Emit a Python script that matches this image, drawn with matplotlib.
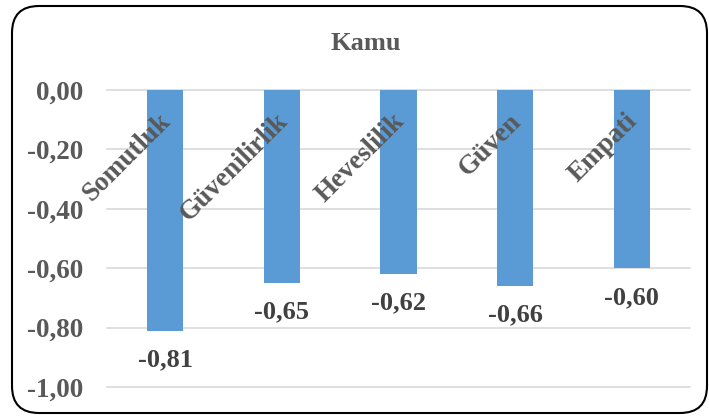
import matplotlib
matplotlib.use("Agg")
import matplotlib.pyplot as plt
from matplotlib.patches import FancyBboxPatch
from matplotlib.transforms import IdentityTransform

categories = ["Somutluk", "Güvenilirlik", "Heveslilik", "Güven", "Empati"]
values = [-0.81, -0.65, -0.62, -0.66, -0.60]
yticks = [0.0, -0.2, -0.4, -0.6, -0.8, -1.0]
title = "Kamu"

plt.rcParams['font.family'] = ['Liberation Serif', 'DejaVu Serif']
plt.rcParams['font.weight'] = 'bold'

W, H = 709, 416
fig = plt.figure(figsize=(W / 100, H / 100), dpi=100)
fig.patch.set_facecolor('white')

# rounded border (pixel coordinates, origin bottom-left)
border = FancyBboxPatch((12, H - 413), 707 - 12, 413 - 6,
                        boxstyle="round,pad=0,rounding_size=27",
                        transform=IdentityTransform(), facecolor='none',
                        edgecolor='black', linewidth=1.5, zorder=10)
fig.patches.append(border)

left, right, top, bottom = 107, 690, 90, 387
ax = fig.add_axes([left / W, (H - bottom) / H, (right - left) / W, (bottom - top) / H])
ax.set_facecolor('none')

x = list(range(len(categories)))
ax.bar(x, values, width=0.31, color='#5B9BD5', zorder=3)
ax.set_xlim(-0.5, len(categories) - 0.5)
ax.set_ylim(-1.0, 0.0)
ax.set_yticks(yticks)
ax.set_yticklabels([f"{v:.2f}".replace('.', ',') for v in yticks])
ax.tick_params(axis='y', length=0, pad=17, labelsize=19.5, labelcolor='#595959')
ax.set_xticks([])
for s in ax.spines.values():
    s.set_visible(False)
for v in yticks:
    ax.axhline(v, color='#D9D9D9', linewidth=1.2, zorder=1, clip_on=False)

for i, (c, v) in enumerate(zip(categories, values)):
    ax.annotate(c, xy=(i, 0), xytext=(-5, -13.5), textcoords='offset points',
                rotation=45, ha='right', va='top', rotation_mode='anchor',
                fontsize=19.5, color='#595959', fontweight='bold', zorder=5)
    ax.annotate(f"{v:.2f}".replace('.', ','), xy=(i, v), xytext=(0, -21),
                textcoords='offset points', ha='center', va='center',
                fontsize=19, color='#404040', fontweight='bold', zorder=5)

fig.text(366 / W, 1 - 43 / H, title, ha='center', va='center',
         fontsize=19, color='#595959', fontweight='bold')

fig.savefig('out.png', dpi=100, facecolor='white')
